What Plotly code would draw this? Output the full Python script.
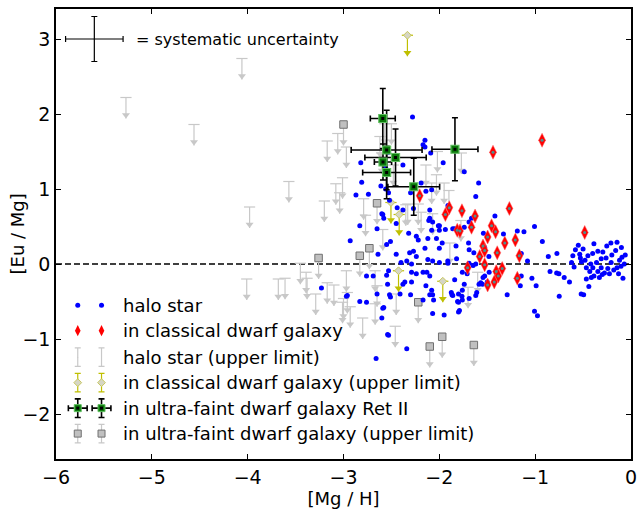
import numpy as np
import plotly.graph_objects as go

# ---------------- data ----------------
# halo stars with Eu and Mg detections
halo_mgh = [
    -1.007, -0.925, -0.773, -0.863, -0.607, -0.535, -0.528, -0.517, -0.45, -0.387, -0.346, -0.294,
    -0.253, -0.311, -0.146, -0.094, -0.104, -0.207, -0.242, -0.277, -0.346, -0.387, -0.414, -0.466,
    -0.44, -0.52, -0.494, -0.594, -0.466, -0.398, -0.311, -0.146, -0.084, -0.225, -0.33, -0.776,
    -0.752, -0.697, -0.642, -0.845, -0.749, -1.007, -0.976, -1.034, -0.99, -1.155, -1.145, -1.08,
    -1.145, -1.117, -1.186, -1.331, -1.292, -1.42, -1.50, -1.544, -1.568, -1.527, -1.586, -1.483,
    -1.648, -1.74, -1.764, -1.689, -1.80, -1.79, -1.84, -1.868, -1.61, -1.999, -1.937, -1.86,
    -1.74, -1.664, -1.695, -1.689, -1.826, -1.82, -1.912, -1.999, -1.54, -1.527,
    -0.55, -0.48, -0.42, -0.36, -0.26, -0.20, -0.16, -0.12, -0.07, -0.40, -0.43, -0.30,
    -0.18, -0.62, -0.58, -0.50, -0.21, -0.13, -0.06, -0.10,
    -2.81, -2.87, -2.74, -2.53, -2.19, -2.08, -2.83, -2.65, -2.93, -2.59, -2.58, -2.51,
    -2.55, -2.64, -2.45, -2.31, -2.27, -2.24, -2.15, -2.12, -2.07, -2.00, -2.24, -2.12,
    -2.22, -2.40, -2.53, -2.34, -2.29, -2.45, -2.38, -2.32, -2.10, -2.07, -2.08, -2.03,
    -2.00, -2.10, -2.69, -2.76, -2.55, -2.36, -2.29, -2.17, -2.13, -2.29, -2.24, -2.14,
    -2.08, -2.65, -2.38, -2.54, -2.59, -2.60, -2.54, -2.34, -2.07, -2.07, -1.81, -1.80,
    -1.76, -2.83, -2.76, -3.23, -2.96,
    -2.28, -2.15, -2.17, -2.15, -2.09, -1.96, -2.38, -2.53, -2.82, -2.56, -2.61, -2.56,
    -2.30, -2.14, -2.27, -1.74, -1.59, -1.62, -2.44, -2.52, -2.11, -2.01, -1.91, -1.69,
    -2.60,
    -2.97, -2.58, -2.53, -2.66, -2.52, -2.51, -2.41, -2.30, -2.17, -2.10, -2.06, -1.95,
    -1.86, -1.80, -1.76, -1.62,
    -1.875, -1.84, -1.97, -1.91, -1.69, -1.64, -1.62, -1.76, -1.71, -1.55, -1.48, -2.10,
]
halo_eumg = [
    0.50, 0.30, 0.14, 0.10, 0.11, 0.13, 0.08, 0.03, 0.11, 0.27, 0.17, 0.16,
    0.24, 0.07, 0.29, 0.09, -0.03, 0.02, -0.06, -0.12, -0.10, -0.16, -0.18, -0.20,
    -0.30, -0.40, -0.41, -0.04, -0.05, -0.05, -0.05, -0.05, -0.19, -0.13, -0.18, -0.12,
    -0.13, -0.18, -0.24, -0.10, -0.43, -0.63, -0.69, -0.19, -0.29, -0.29, -0.16, 0.04,
    0.14, 0.43, 0.44, 0.40, -0.41, 0.64, -0.24, -0.18, -0.25, -0.16, -0.27, 0.10,
    -0.02, -0.27, -0.43, -0.46, -0.51, -0.62, -0.21, -0.41, -0.38, 0.51, 0.46, 0.47,
    0.49, 0.61, 0.28, 0.19, 0.24, 0.07, 0.04, 0.02, 0.41, 0.22,
    0.25, 0.05, 0.00, 0.02, 0.08, 0.12, 0.18, 0.05, 0.00, 0.14, -0.10, -0.14,
    -0.08, 0.02, 0.19, 0.20, 0.28, -0.13, 0.12, 0.22,
    1.09, 0.92, 0.93, 0.95, 1.08, 0.99, 0.51, 0.47, 0.31, 0.66, 0.61, 0.30,
    0.26, 0.13, 0.13, 0.15, 0.17, 0.10, 0.21, 0.06, 0.04, 0.21, 0.37, 0.34,
    0.32, 0.02, -0.09, 0.04, 0.00, 0.54, 0.72, 0.41, 0.61, 0.56, 0.45, 0.34,
    0.45, 0.72, -0.16, -0.16, -0.15, -0.24, -0.24, -0.11, -0.11, -0.11, -0.13, -0.29,
    -0.35, -0.40, -0.27, -0.27, -0.59, -0.72, -0.94, -1.13, -0.41, -0.66, -0.50, -0.64,
    -0.35, -0.50, -0.51, -0.32, -0.42,
    1.96, 1.65, 1.59, 1.56, 1.48, 1.35, 1.32, 1.49, 1.35, 1.28, 1.04, 1.00,
    0.95, 0.97, 0.74, 1.23, 1.08, 0.90, 0.75, 0.85, 0.58, 0.51, 0.78, 0.56,
    0.67,
    -0.43, -0.58, -0.95, -1.26, -0.41, -0.44, -0.40, -0.41, -0.48, -0.41, -0.48, -0.68,
    -0.42, -0.40, -0.48, -0.42, -0.38,
    0.47, 0.28, 0.01, 0.01, 0.15, 0.00, -0.11, -0.13, -0.27, -0.11, -0.16, -1.03,
]

# stars in classical dwarf galaxies
dsph_mgh = [
    -1.937, -1.896, -1.764, -1.627, -1.269, -1.813, -1.785, -1.664, -1.455, -1.413, -1.496,
    -1.317, -1.207, -1.544, -1.527, -1.579, -1.396, -1.165, -1.527, -1.705, -1.344, -1.406,
    -1.385, -1.427, -1.496, -1.186, -0.483, -2.205, -1.44, -0.928,
]
dsph_eumg = [
    0.66, 0.75, 0.71, 0.64, 0.74, 0.45, 0.44, 0.49, 0.51, 0.43, 0.36,
    0.28, 0.32, 0.24, 0.18, 0.10, 0.15, 0.11, -0.01, -0.05, -0.06, -0.10,
    -0.16, -0.24, -0.28, -0.19, 0.42, 0.91, 1.49, 1.65,
]

# halo stars, upper limits on Eu
halo_ul_mgh = [
    -5.27, -4.06, -4.56, -3.98, -3.57, -4.01, -3.68, -3.61,
    -3.17, -3.06, -2.97, -3.01, -3.08, -3.04, -3.20,
    -3.45, -3.39, -3.38, -3.29, -3.17, -3.10, -3.01,
    -2.97, -2.96, -3.00, -2.93, -2.80, -2.77, -2.67, -2.65, -2.59, -2.46, -2.45, -2.35,
    -2.19, -2.07, -1.89, -1.775, -1.70, -1.60, -2.67,
    -2.79, -2.62, -2.57, -2.50, -2.60, -2.48, -2.33, -2.22, -2.14, -2.08, -2.03, -2.02,
    -1.95, -1.90, -1.77,
]
halo_ul_eumg = [
    2.22, 2.74, 1.86, 0.76, 1.10, -0.20, -0.20, -0.19,
    1.64, 1.74, 1.56, 1.15, 1.07, 0.95, 0.84,
    0.01, -0.11, -0.19, -0.40, -0.25, -0.28, -0.51,
    -0.09, -0.38, -0.46, -0.57, -0.72, 0.65, -0.09, -0.29, 0.46, -0.83, -0.40, 0.79,
    0.69, 0.67, 0.28, 0.58, -0.31, -0.11, -0.53,
    0.87, 1.70, 1.87, 1.87, 1.48, 1.32, 0.80, 0.80, 1.32, 1.08, 1.19, 1.50,
    1.08, 0.98, 1.48,
]

# classical dwarf galaxy stars, upper limits on Eu
dsph_ul_mgh = [-2.505, -2.419, -2.426, -1.964, -2.333]
dsph_ul_eumg = [0.82, 0.66, -0.09, -0.23, 3.05]

# Reticulum II members
ret2_mgh = [-2.59, -2.55, -2.457, -2.588, -2.55, -2.267, -1.837]
ret2_eumg = [1.94, 1.52, 1.42, 1.36, 1.22, 1.03, 1.53]
ret2_mgh_err = [0.13, 0.37, 0.32, 0.09, 0.25, 0.27, 0.24]
ret2_eumg_err = [0.40, 0.53, 0.38, 0.24, 0.35, 0.38, 0.42]

# other ultra-faint dwarf galaxy stars, upper limits on Eu
ufd_ul_mgh = [-3.00, -3.26, -2.65, -2.73, -2.83, -2.22, -1.97, -2.10, -1.64]
ufd_ul_eumg = [1.86, 0.08, 0.81, 0.21, 0.11, -0.51, -0.97, -1.10, -1.08]

# systematic uncertainty indicator
sys_x, sys_y, sys_err = -5.6, 3.0, 0.3

legend_labels = [
    "halo star",
    "in classical dwarf galaxy",
    "halo star (upper limit)",
    "in classical dwarf galaxy (upper limit)",
    "in ultra-faint dwarf galaxy Ret II",
    "in ultra-faint dwarf galaxy (upper limit)",
]

# ---------------- styling ----------------
FONT = "DejaVu Sans"
BLUE = "#0000ff"
RED = "#ff0000"
GREY = "#c8c8c8"
YELLOW = "#bfbf00"
UL_LEN = 0.28          # arrow length of upper limits (dex)
HEAD = 7               # arrowhead marker size (px)
HEAD_OFF = 0.046       # centre of arrowhead above its tip (dex)

fig = go.Figure()


def upper_limits(x, y, color, cap=True):
    x = np.asarray(x, float)
    y = np.asarray(y, float)
    fig.add_trace(go.Scatter(
        x=x, y=y, mode="markers",
        marker=dict(symbol="line-ew", size=8 if cap else 1,
                    line=dict(color=color, width=1.2), color=color),
        error_y=dict(type="data", symmetric=False, array=np.zeros_like(y),
                     arrayminus=np.full_like(y, UL_LEN), width=0,
                     thickness=1.2, color=color),
        showlegend=False, hoverinfo="skip"))
    fig.add_trace(go.Scatter(
        x=x, y=y - UL_LEN + HEAD_OFF, mode="markers",
        marker=dict(symbol="triangle-down", size=HEAD, color=color,
                    line=dict(width=0)),
        showlegend=False, hoverinfo="skip"))


# zero line
fig.add_shape(type="line", x0=-6, x1=0, y0=0, y1=0, xref="x", yref="y",
              line=dict(color="black", width=1.4, dash="6px,3px"), layer="below")

# halo upper limits
upper_limits(halo_ul_mgh, halo_ul_eumg, GREY)

# ultra-faint upper limits
upper_limits(ufd_ul_mgh, ufd_ul_eumg, GREY, cap=False)
fig.add_trace(go.Scatter(
    x=ufd_ul_mgh, y=ufd_ul_eumg, mode="markers",
    marker=dict(symbol="square", size=7.5, color="#c0c0c0",
                line=dict(color="#707070", width=1)),
    showlegend=False, hoverinfo="skip"))

# classical dwarf upper limits
upper_limits(dsph_ul_mgh, dsph_ul_eumg, YELLOW)
fig.add_trace(go.Scatter(
    x=dsph_ul_mgh, y=dsph_ul_eumg, mode="markers",
    marker=dict(symbol="diamond", size=6, color="#d6d6c4",
                line=dict(color="#c8c860", width=1)),
    showlegend=False, hoverinfo="skip"))

# halo stars
fig.add_trace(go.Scatter(
    x=halo_mgh, y=halo_eumg, mode="markers",
    marker=dict(symbol="circle", size=5, color=BLUE, line=dict(width=0)),
    showlegend=False, hoverinfo="skip"))

# classical dwarf stars
fig.add_trace(go.Scatter(
    x=dsph_mgh, y=dsph_eumg, mode="markers",
    marker=dict(symbol="diamond-tall", size=10, color=RED,
                line=dict(color="#ff6060", width=0.5)),
    showlegend=False, hoverinfo="skip"))
fig.add_trace(go.Scatter(
    x=dsph_mgh, y=dsph_eumg, mode="markers",
    marker=dict(symbol="circle", size=3, color="#4f8f8f", line=dict(width=0)),
    showlegend=False, hoverinfo="skip"))

# Reticulum II
fig.add_trace(go.Scatter(
    x=ret2_mgh, y=ret2_eumg, mode="markers",
    marker=dict(symbol="square", size=8, color="#0b7a0b",
                line=dict(color="#5fbf5f", width=1.2)),
    error_x=dict(type="data", array=ret2_mgh_err, color="black", thickness=1.6, width=3),
    error_y=dict(type="data", array=ret2_eumg_err, color="black", thickness=1.6, width=3),
    showlegend=False, hoverinfo="skip"))
fig.add_trace(go.Scatter(
    x=ret2_mgh, y=ret2_eumg, mode="markers",
    marker=dict(symbol="square", size=3, color="black", line=dict(width=0)),
    showlegend=False, hoverinfo="skip"))

# systematic uncertainty cross
fig.add_trace(go.Scatter(
    x=[sys_x], y=[sys_y], mode="markers",
    marker=dict(size=1, color="black"),
    error_x=dict(type="data", array=[sys_err], color="black", thickness=1.2, width=3),
    error_y=dict(type="data", array=[sys_err], color="black", thickness=1.2, width=3),
    showlegend=False, hoverinfo="skip"))
fig.add_annotation(x=-5.19, y=sys_y, xref="x", yref="y", text="= systematic uncertainty",
                   showarrow=False, xanchor="left", yanchor="middle",
                   font=dict(family=FONT, size=16, color="black"))

# ---------------- hand-built legend (two sample glyphs per entry) ----------------
leg_x = np.array([-5.773, -5.525])
leg_y = [-0.549, -0.889, -1.242, -1.582, -1.922, -2.261]
leg_text_x = -5.32
LEG_ERR = 0.124
LEG_XERR = 0.098

# halo star
fig.add_trace(go.Scatter(x=leg_x, y=[leg_y[0]] * 2, mode="markers",
                         marker=dict(size=5, color=BLUE, line=dict(width=0)),
                         showlegend=False, hoverinfo="skip"))
# classical dwarf
fig.add_trace(go.Scatter(x=leg_x, y=[leg_y[1]] * 2, mode="markers",
                         marker=dict(symbol="diamond-tall", size=8, color=RED,
                                     line=dict(width=0)),
                         showlegend=False, hoverinfo="skip"))
# halo upper limit
fig.add_trace(go.Scatter(x=leg_x, y=[leg_y[2]] * 2, mode="markers",
                         marker=dict(size=1, color=GREY),
                         error_y=dict(type="data", array=[LEG_ERR] * 2, color=GREY,
                                      thickness=1.2, width=3),
                         showlegend=False, hoverinfo="skip"))
# classical dwarf upper limit
fig.add_trace(go.Scatter(x=leg_x, y=[leg_y[3]] * 2, mode="markers",
                         marker=dict(symbol="diamond", size=6, color="#d6d6c4",
                                     line=dict(color="#c8c860", width=1)),
                         error_y=dict(type="data", array=[LEG_ERR] * 2, color=YELLOW,
                                      thickness=1.2, width=3),
                         showlegend=False, hoverinfo="skip"))
# Ret II
fig.add_trace(go.Scatter(x=leg_x, y=[leg_y[4]] * 2, mode="markers",
                         marker=dict(symbol="square", size=7, color="#0b7a0b",
                                     line=dict(color="#5fbf5f", width=1)),
                         error_x=dict(type="data", array=[LEG_XERR] * 2, color="black",
                                      thickness=1.6, width=3),
                         error_y=dict(type="data", array=[LEG_ERR] * 2, color="black",
                                      thickness=1.6, width=3),
                         showlegend=False, hoverinfo="skip"))
fig.add_trace(go.Scatter(x=leg_x, y=[leg_y[4]] * 2, mode="markers",
                         marker=dict(symbol="square", size=3, color="black", line=dict(width=0)),
                         showlegend=False, hoverinfo="skip"))
# ultra-faint upper limit
fig.add_trace(go.Scatter(x=leg_x, y=[leg_y[5]] * 2, mode="markers",
                         marker=dict(symbol="square", size=7, color="#c0c0c0",
                                     line=dict(color="#707070", width=1)),
                         error_y=dict(type="data", array=[LEG_ERR] * 2, color=GREY,
                                      thickness=1.2, width=3),
                         showlegend=False, hoverinfo="skip"))

for yy, label in zip(leg_y, legend_labels):
    fig.add_annotation(x=leg_text_x, y=yy, xref="x", yref="y", text=label,
                       showarrow=False, xanchor="left", yanchor="middle",
                       font=dict(family=FONT, size=18, color="black"))

# y-axis title placed explicitly
fig.add_annotation(x=-0.067, y=0.5, xref="paper", yref="paper", text="[Eu / Mg]",
                   showarrow=False, textangle=-90, xanchor="center", yanchor="middle",
                   font=dict(family=FONT, size=18, color="black"))

# ---------------- axes / layout ----------------
axis_common = dict(
    showline=True, linecolor="black", linewidth=1.5, mirror="ticks",
    ticks="inside", ticklen=5, tickwidth=1, tickcolor="black",
    showgrid=False, zeroline=False,
    tickfont=dict(family=FONT, size=19, color="black"),
)
fig.update_xaxes(range=[-6, 0], tickmode="array", tickvals=[-6, -5, -4, -3, -2, -1, 0],
                 title=dict(text="[Mg / H]", font=dict(family=FONT, size=18, color="black"),
                            standoff=4),
                 **axis_common)
fig.update_yaxes(range=[-2.6, 3.4], tickmode="array", tickvals=[-2, -1, 0, 1, 2, 3],
                 **axis_common)
fig.update_layout(
    width=644, height=511,
    margin=dict(l=56, r=7, t=7, b=44),
    paper_bgcolor="white", plot_bgcolor="white",
    showlegend=False,
    font=dict(family=FONT, color="black"),
)

fig.write_html("out.html")
